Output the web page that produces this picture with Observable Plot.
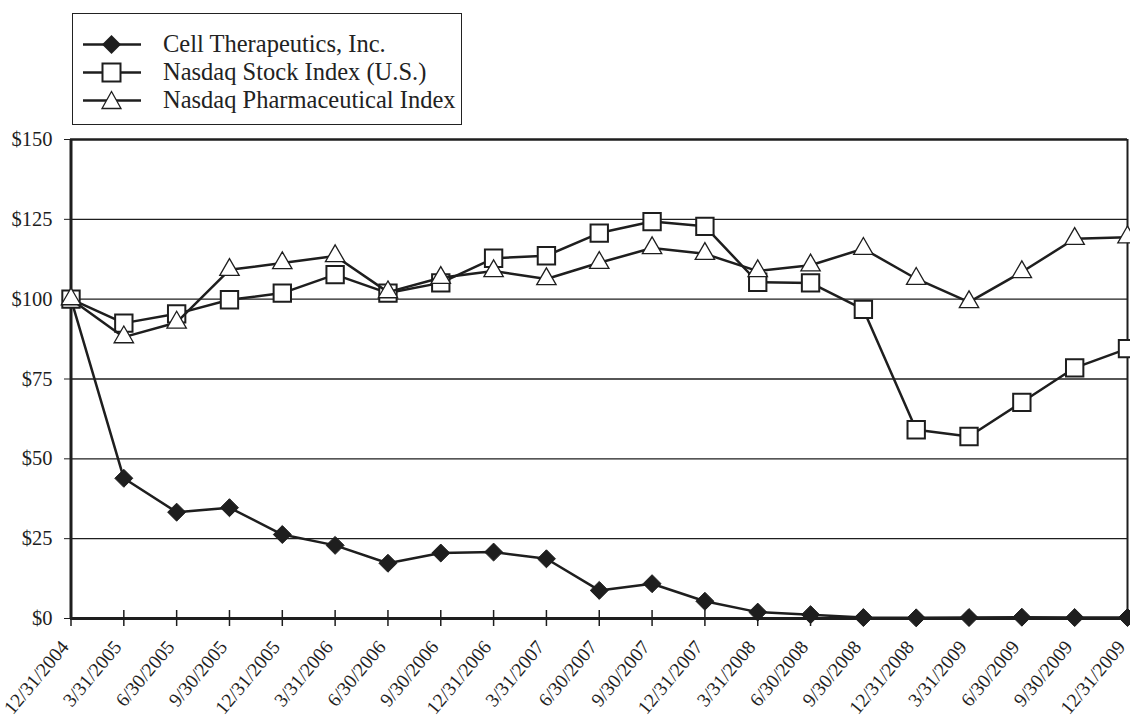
<!DOCTYPE html>
<html><head><meta charset="utf-8">
<script src="https://cdn.jsdelivr.net/npm/d3@7"></script>
<script src="https://cdn.jsdelivr.net/npm/@observablehq/plot@0.6"></script>
<style>
body{margin:0;background:#fff;font-family:"Liberation Serif","Times New Roman",serif;}
#wrap{position:relative;width:1130px;height:718px;overflow:hidden;}
#legend{position:absolute;left:72px;top:13px;width:390px;height:112px;border:1.5px solid #222;box-sizing:border-box;}
.row{position:absolute;left:0;height:28px;display:flex;align-items:center;font-size:24.5px;color:#222;white-space:nowrap;}
.row svg{margin-left:10px;margin-right:22px;}
#chart{position:absolute;left:0;top:128px;}
</style></head><body>
<div id="wrap"><div id="legend"></div><div id="chart"></div></div>
<script>
const dates = ["12/31/2004","3/31/2005","6/30/2005","9/30/2005","12/31/2005","3/31/2006","6/30/2006","9/30/2006","12/31/2006","3/31/2007","6/30/2007","9/30/2007","12/31/2007","3/31/2008","6/30/2008","9/30/2008","12/31/2008","3/31/2009","6/30/2009","9/30/2009","12/31/2009"];
const seriesNames = ["Cell Therapeutics, Inc.","Nasdaq Stock Index (U.S.)","Nasdaq Pharmaceutical Index"];
const cellValues = [100,43.9,33.3,34.7,26.3,22.9,17.3,20.5,20.8,18.7,8.8,10.9,5.4,2.0,1.2,0.3,0.2,0.3,0.4,0.3,0.3];
const nasdaqValues = [100,92.5,95.4,99.8,101.9,107.7,101.9,105.1,112.8,113.6,120.7,124.3,122.8,105.3,105.1,96.8,59.1,57.0,67.7,78.5,84.5];
const pharmaValues = [100,88.1,92.7,109.2,111.3,113.5,102.2,106.7,108.8,106.3,111.4,116.0,114.2,108.8,110.6,115.8,106.4,99.1,108.5,118.9,119.4];
const yTicks = [0,25,50,75,100,125,150];

const ink = "#1e1e1e";
const mk = (vals, name) => dates.map((d,i)=>({date:d, value:vals[i], series:name}));
const cell = mk(cellValues, seriesNames[0]);
const nasdaq = mk(nasdaqValues, seriesNames[1]);
const pharma = mk(pharmaValues, seriesNames[2]);

const chart = Plot.plot({
  width: 1130, height: 590,
  marginLeft: 70, marginRight: 3, marginTop: 11, marginBottom: 100,
  style: {fontFamily: '"Liberation Serif","Times New Roman",serif', fontSize: "20px", color: ink, background: "white", overflow: "visible"},
  x: {type: "point", domain: dates, padding: 0, round: false, range: [70.5, 1127], label: null},
  y: {domain: [0,150], label: null},
  marks: [
    Plot.ruleY(yTicks.slice(1,-1), {stroke: ink, strokeWidth: 1.3}),
    Plot.ruleY([150], {stroke: ink, strokeWidth: 2.5}),
    Plot.ruleX([dates[dates.length-1]], {stroke: ink, strokeWidth: 2}),
    Plot.axisY({ticks: yTicks, tickSize: 6, tickPadding: 12, tickFormat: d => "$" + d, stroke: ink, fontSize: 20.5}),
    Plot.axisX({tickSize: 16, dy: -8, tickFormat: () => "", stroke: ink, strokeWidth: 1.5}),
    Plot.axisX({tickSize: 0, tickPadding: 25, dx: -6, tickRotate: -50, fontSize: 19.5, fill: ink}),
    Plot.ruleX([dates[0]], {stroke: ink, strokeWidth: 3}),
    Plot.ruleY([0], {stroke: ink, strokeWidth: 3}),
    Plot.line(cell, {x: "date", y: "value", stroke: ink, strokeWidth: 2.5}),
    Plot.dot(cell, {x: "date", y: "value", symbol: "diamond2", r: 8.1, fill: ink, stroke: ink, strokeWidth: 1}),
    Plot.line(nasdaq, {x: "date", y: "value", stroke: ink, strokeWidth: 2.5}),
    Plot.dot(nasdaq, {x: "date", y: "value", symbol: "square", r: 9.8, fill: "white", stroke: ink, strokeWidth: 2}),
    Plot.line(pharma, {x: "date", y: "value", stroke: ink, strokeWidth: 2.5}),
    Plot.dot(pharma, {x: "date", y: "value", symbol: "triangle", r: 7.2, fill: "white", stroke: ink, strokeWidth: 1.3})
  ]
});
document.getElementById("chart").appendChild(chart);

// legend
const legend = document.getElementById("legend");
const symbols = [
  '<polygon points="28.5,4 38,13.5 28.5,23 19,13.5" fill="'+ink+'"/>',
  '<rect x="19.5" y="4.5" width="18" height="18" fill="white" stroke="'+ink+'" stroke-width="2"/>',
  '<polygon points="28.5,4.5 38,21.5 19,21.5" fill="white" stroke="'+ink+'" stroke-width="1.3"/>'
];
const rowTops = [16, 44, 72];
seriesNames.forEach((name, i) => {
  const row = document.createElement("div");
  row.className = "row";
  row.style.top = rowTops[i] + "px";
  row.innerHTML = '<svg width="58" height="27" viewBox="0 0 58 27"><line x1="0" x2="58" y1="13.5" y2="13.5" stroke="'+ink+'" stroke-width="2.5"/>' + symbols[i] + '</svg><span>' + name + '</span>';
  legend.appendChild(row);
});
</script>
</body></html>
